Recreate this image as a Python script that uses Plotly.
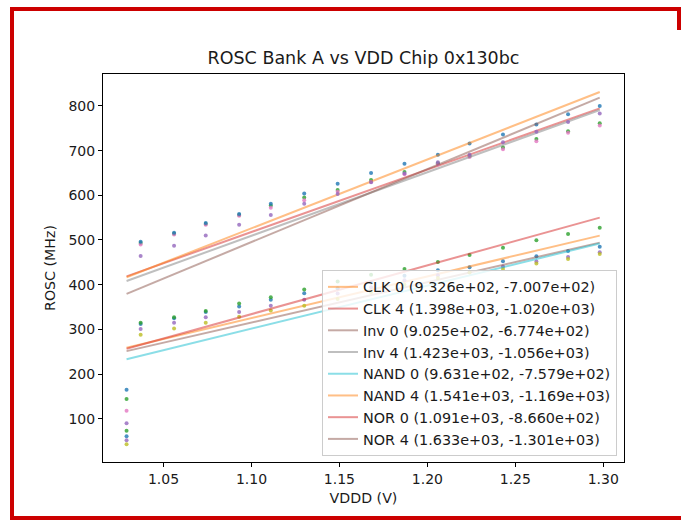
import plotly.graph_objects as go

# Measured VDDD points (V)
vddd = [1.029, 1.037, 1.056, 1.074, 1.093, 1.111, 1.130, 1.149,
        1.168, 1.187, 1.206, 1.224, 1.243, 1.262, 1.280, 1.298]

# ROSC frequencies (MHz)
clk0 = [61, 312, 325, 339, 351, 366, 381, 392, 405, 420, 432, 439, 452.4, 463.6, 475.5, 485]
clk4 = [144, 493, 514, 536, 556, 577, 595, 612, 634, 652, 672, 688, 707, 726, 743.5, 761]
inv0 = [52, 301, 315, 327, 339, 352.6, 366, 380, 394, 410, 421, 428, 440.4, 451.6, 462, 472.5]
inv4 = [118, 490, 512, 534, 554, 572, 589, 608, 630, 647, 669, 686, 703, 721, 740, 756]
nand0 = [43, 288, 302, 315, 328, 342, 353, 368, 383, 400, 415, 427, 435.3, 447.1, 457.6, 468.7]
nand4 = [165, 496, 516, 538, 558, 581, 604, 626, 650, 670.5, 691, 716, 736, 758.5, 781.5, 800]
nor0 = [73, 315, 327, 341, 358, 372, 389, 407, 422, 435, 451, 466.5, 482.8, 499.4, 513.4, 527.5]
nor4 = [90, 464, 487, 510, 534, 556, 581, 603, 629, 649, 674, 691, 719, 742, 764, 783]

names = ["CLK 0", "CLK 4", "Inv 0", "Inv 4", "NAND 0", "NAND 4", "NOR 0", "NOR 4"]
series = [clk0, clk4, inv0, inv4, nand0, nand4, nor0, nor4]
# Linear fit parameters (slope, intercept) shown in the legend
slopes = [9.326e+02, 1.398e+03, 9.025e+02, 1.423e+03, 9.631e+02, 1.541e+03, 1.091e+03, 1.633e+03]
intercepts = [-7.007e+02, -1.020e+03, -6.774e+02, -1.056e+03, -7.579e+02, -1.169e+03, -8.660e+02, -1.301e+03]

x_ticks = [1.05, 1.10, 1.15, 1.20, 1.25, 1.30]
y_ticks = [100, 200, 300, 400, 500, 600, 700, 800]

tab10 = ["31,119,180", "255,127,14", "44,160,44", "214,39,40", "148,103,189",
         "140,86,75", "227,119,194", "127,127,127", "188,189,34", "23,190,207"]

fig = go.Figure()
ci = 0
for name, ys, m, b in zip(names, series, slopes, intercepts):
    pc = tab10[ci % 10]
    lc = tab10[(ci + 1) % 10]
    ci += 2
    fig.add_trace(go.Scatter(x=vddd, y=ys, mode="markers", showlegend=False,
                             marker=dict(size=4, color="rgba(%s,0.8)" % pc, line=dict(width=0)),
                             hoverinfo="skip"))
    fit = [m * v + b for v in vddd]
    fig.add_trace(go.Scatter(x=vddd, y=fit, mode="lines",
                             name="%s (%.3e, %.3e)" % (name, m, b),
                             line=dict(color="rgba(%s,0.5)" % lc, width=2)))

W, H = 681, 520
L, R, T, B = 103, 57, 74, 58
pw, ph = W - L - R, H - T - B

def px(xp):
    return (xp - L) / pw

def py(yp):
    return (H - B - yp) / ph

red = dict(color="#cc0000", width=4)
frame = [
    dict(type="line", xref="paper", yref="paper", x0=px(12), x1=px(12), y0=py(7), y1=py(522), line=red, layer="above"),
    dict(type="line", xref="paper", yref="paper", x0=px(10), x1=px(684), y0=py(9), y1=py(9), line=red, layer="above"),
    dict(type="line", xref="paper", yref="paper", x0=px(10), x1=px(684), y0=py(518), y1=py(518), line=red, layer="above"),
    dict(type="line", xref="paper", yref="paper", x0=px(679), x1=px(679), y0=py(7), y1=py(30), line=red, layer="above"),
]

fig.update_layout(
    width=W, height=H,
    margin=dict(l=L, r=R, t=T, b=B),
    paper_bgcolor="white", plot_bgcolor="white",
    font=dict(family="DejaVu Sans", size=14, color="#1a1a1a"),
    title=dict(text="ROSC Bank A vs VDD Chip 0x130bc", x=0.5 * (L + W - R) / W, xanchor="center",
               y=1 - 58 / H, yanchor="middle", yref="container",
               font=dict(size=17.5, color="#1a1a1a")),
    xaxis=dict(range=[1.0156, 1.3118], tickvals=x_ticks,
               ticktext=["%.2f" % v for v in x_ticks],
               showgrid=False, zeroline=False, showline=True, mirror=True, linecolor="black",
               linewidth=1, ticks="outside", ticklen=4, tickcolor="black",
               title=dict(text="VDDD (V)", standoff=7, font=dict(size=14.2))),
    yaxis=dict(range=[3.1, 871.5], tickvals=y_ticks,
               showgrid=False, zeroline=False, showline=True, mirror=True, linecolor="black",
               linewidth=1, ticks="outside", ticklen=4, tickcolor="black",
               title=dict(text="ROSC (MHz)", standoff=9, font=dict(size=14.2))),
    legend=dict(x=px(617), y=py(456), xanchor="right", yanchor="bottom",
                bgcolor="rgba(255,255,255,0.8)", bordercolor="#cccccc", borderwidth=1,
                font=dict(size=14.4), itemwidth=30, tracegroupgap=0),
    shapes=frame,
)

fig.write_html("out.html", config={"displayModeBar": False},
               post_script="document.body.style.margin='0';document.body.style.overflow='hidden';")
